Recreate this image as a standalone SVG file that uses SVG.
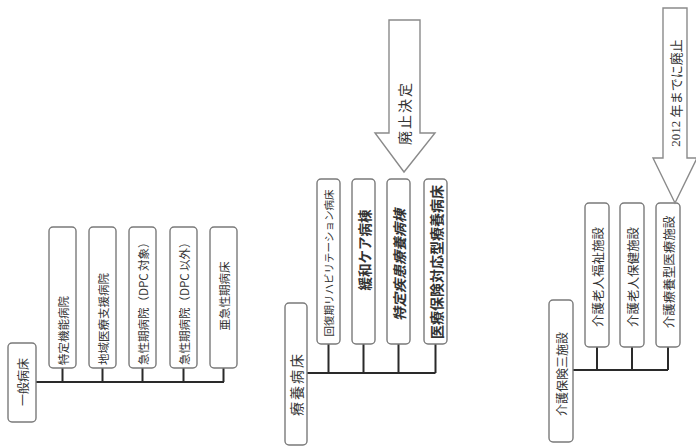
<svg xmlns="http://www.w3.org/2000/svg" width="696" height="447" viewBox="0 0 696 447">
  <style>
    .box { fill: #ffffff; stroke: #7a7a7a; stroke-width: 1.4; }
    .bus { fill: none; stroke: #2a2a2a; stroke-width: 2; }
    .arrow { fill: #ffffff; stroke: #8a8a8a; stroke-width: 1.4; stroke-linejoin: miter; }
    text { font-family: "Noto Sans CJK JP", "Noto Sans", sans-serif; fill: #333333; dominant-baseline: central; }
    .mid { text-anchor: middle; }
    .start { text-anchor: start; }
    .num { font-family: "Liberation Serif", serif; }
  </style>
  <rect width="696" height="447" fill="#ffffff"/>

  <!-- connectors -->
  <g id="connectors">
    <path class="bus" d="M36,382 H224 M62.5,368 V382 M102.5,368 V382 M142.5,368 V382 M183.5,368 V382 M223.5,368 V382"/>
    <path class="bus" d="M307,373 H435.5 M328.5,344 V373 M363.5,344 V373 M398.5,344 V373 M435.5,344 V373"/>
    <path class="bus" d="M573,370 H668 M597,347 V370 M632,347 V370 M668,347 V370"/>
  </g>

  <!-- general beds -->
  <g id="ippan">
    <rect class="box" x="8" y="343" width="28" height="79" rx="4"/>
    <text class="mid" font-size="12" transform="translate(22,382) rotate(-90)">一般病床</text>
  </g>
  <g id="tokutei-kino">
    <rect class="box" x="49" y="227" width="27" height="141" rx="4"/>
    <text class="start" font-size="11.5" transform="translate(62.5,365) rotate(-90)">特定機能病院</text>
  </g>
  <g id="chiiki-shien">
    <rect class="box" x="89" y="227" width="27" height="141" rx="4"/>
    <text class="start" font-size="11.5" transform="translate(102.5,365) rotate(-90)">地域医療支援病院</text>
  </g>
  <g id="dpc-taisho">
    <rect class="box" x="129" y="227" width="27" height="141" rx="4"/>
    <text class="start" font-size="11.5" transform="translate(142.5,365) rotate(-90)">急性期病院（DPC 対象）</text>
  </g>
  <g id="dpc-igai">
    <rect class="box" x="170" y="227" width="27" height="141" rx="4"/>
    <text class="start" font-size="11.5" transform="translate(183.5,365) rotate(-90)">急性期病院（DPC 以外）</text>
  </g>
  <g id="akyuseiki">
    <rect class="box" x="210" y="227" width="27" height="141" rx="4"/>
    <text class="mid" font-size="11.5" transform="translate(223.5,296) rotate(-90)">亜急性期病床</text>
  </g>

  <!-- long-term care beds -->
  <g id="ryoyo">
    <rect class="box" x="285" y="303" width="22" height="142" rx="4"/>
    <text class="mid" font-size="14" letter-spacing="2" transform="translate(296,384) rotate(-90)">療養病床</text>
  </g>
  <g id="kaifukuki">
    <rect class="box" x="317" y="179" width="23" height="165" rx="4"/>
    <text class="mid" font-size="10.5" transform="translate(328.5,263) rotate(-90)">回復期リハビリテーション病床</text>
  </g>
  <g id="kanwa-care">
    <rect class="box" x="352" y="179" width="23" height="165" rx="4"/>
    <text class="mid" font-size="13.5" font-weight="bold" transform="translate(363.5,250) rotate(-90)">緩和ケア病棟</text>
  </g>
  <g id="tokutei-shikkan">
    <rect class="box" x="387" y="179" width="23" height="165" rx="4"/>
    <text class="mid" font-size="14" font-style="italic" font-weight="bold" transform="translate(398.5,265) rotate(-90)">特定疾患療養病棟</text>
  </g>
  <g id="iryo-hoken">
    <rect class="box" x="424" y="179" width="23" height="165" rx="4"/>
    <text class="mid" font-size="14" font-weight="bold" transform="translate(435.5,262) rotate(-90)">医療保険対応型療養病床</text>
  </g>
  <g id="haishi-kettei">
    <polygon class="arrow" points="389,20 420,20 420,133 435,133 404,172 375,133 389,133"/>
    <text class="mid" font-size="14" letter-spacing="2" transform="translate(404,113) rotate(-90)">廃止決定</text>
  </g>

  <!-- care insurance facilities -->
  <g id="kaigo-sanshisetsu">
    <rect class="box" x="549" y="300" width="24" height="142" rx="4"/>
    <text class="mid" font-size="12" transform="translate(561,374) rotate(-90)">介護保険三施設</text>
  </g>
  <g id="fukushi">
    <rect class="box" x="585" y="203" width="24" height="144" rx="4"/>
    <text class="mid" font-size="12.5" transform="translate(597,277) rotate(-90)">介護老人福祉施設</text>
  </g>
  <g id="hoken">
    <rect class="box" x="620" y="203" width="24" height="144" rx="4"/>
    <text class="mid" font-size="12.5" transform="translate(632,277) rotate(-90)">介護老人保健施設</text>
  </g>
  <g id="ryoyogata">
    <rect class="box" x="656" y="203" width="24" height="144" rx="4"/>
    <text class="mid" font-size="12.5" transform="translate(668,272) rotate(-90)">介護療養型医療施設</text>
  </g>
  <g id="haishi-2012">
    <polygon class="arrow" points="663,8 687,8 687,158 697,158 675,203 653,158 663,158"/>
    <text class="mid" font-size="13" transform="translate(675,93) rotate(-90)"><tspan class="num">2012 </tspan>年までに廃止</text>
  </g>
</svg>
